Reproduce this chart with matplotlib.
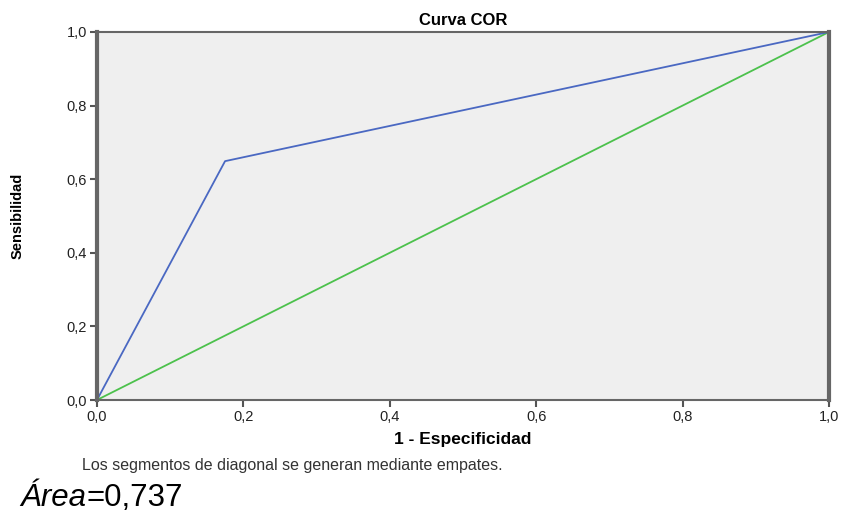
import matplotlib
matplotlib.use("Agg")
import matplotlib.pyplot as plt

# Datos de la curva COR
fpr = [0.0, 0.175, 1.0]
tpr = [0.0, 0.649, 1.0]
ref_x = [0.0, 1.0]
ref_y = [0.0, 1.0]
ticks = [0.0, 0.2, 0.4, 0.6, 0.8, 1.0]
tick_labels = ["0,0", "0,2", "0,4", "0,6", "0,8", "1,0"]
area_txt = "=0,737"

plt.rcParams['font.family'] = ['Liberation Sans', 'DejaVu Sans']

fig = plt.figure(figsize=(8.43, 5.15), dpi=100)
ax = fig.add_axes([0.115, 0.2233, 0.8684, 0.7146])
ax.set_facecolor('#efefef')

ax.plot(ref_x, ref_y, color='#4cc14c', linewidth=1.3)
ax.plot(fpr, tpr, color='#4a68c2', linewidth=1.3)

ax.set_xlim(0, 1)
ax.set_ylim(0, 1)
ax.set_xticks(ticks)
ax.set_xticklabels(tick_labels)
ax.set_yticks(ticks)
ax.set_yticklabels(tick_labels)
ax.tick_params(direction='out', length=5, width=1.5, color='#555555',
               labelsize=10.5, labelcolor='#222222', pad=2)

for s in ['left', 'right']:
    ax.spines[s].set_linewidth(3)
    ax.spines[s].set_color('#666666')
for s in ['top', 'bottom']:
    ax.spines[s].set_linewidth(1.5)
    ax.spines[s].set_color('#666666')

ax.set_title("Curva COR", fontsize=12, fontweight='bold', pad=5)
ax.set_xlabel("1 - Especificidad", fontsize=12.5, fontweight='bold', labelpad=6)
ax.set_ylabel("Sensibilidad", fontsize=10.5, fontweight='bold', labelpad=30)

fig.text(0.097, 0.097, "Los segmentos de diagonal se generan mediante empates.",
         fontsize=11.5, color='#333333', va='center')

t1 = fig.text(0.024, 0.018, "Área", fontsize=22.5, style='italic', va='baseline')
ax.annotate(area_txt, xy=(1, 0), xycoords=t1, fontsize=22.5, va='bottom',
            annotation_clip=False)

fig.savefig("out.png", dpi=100)
